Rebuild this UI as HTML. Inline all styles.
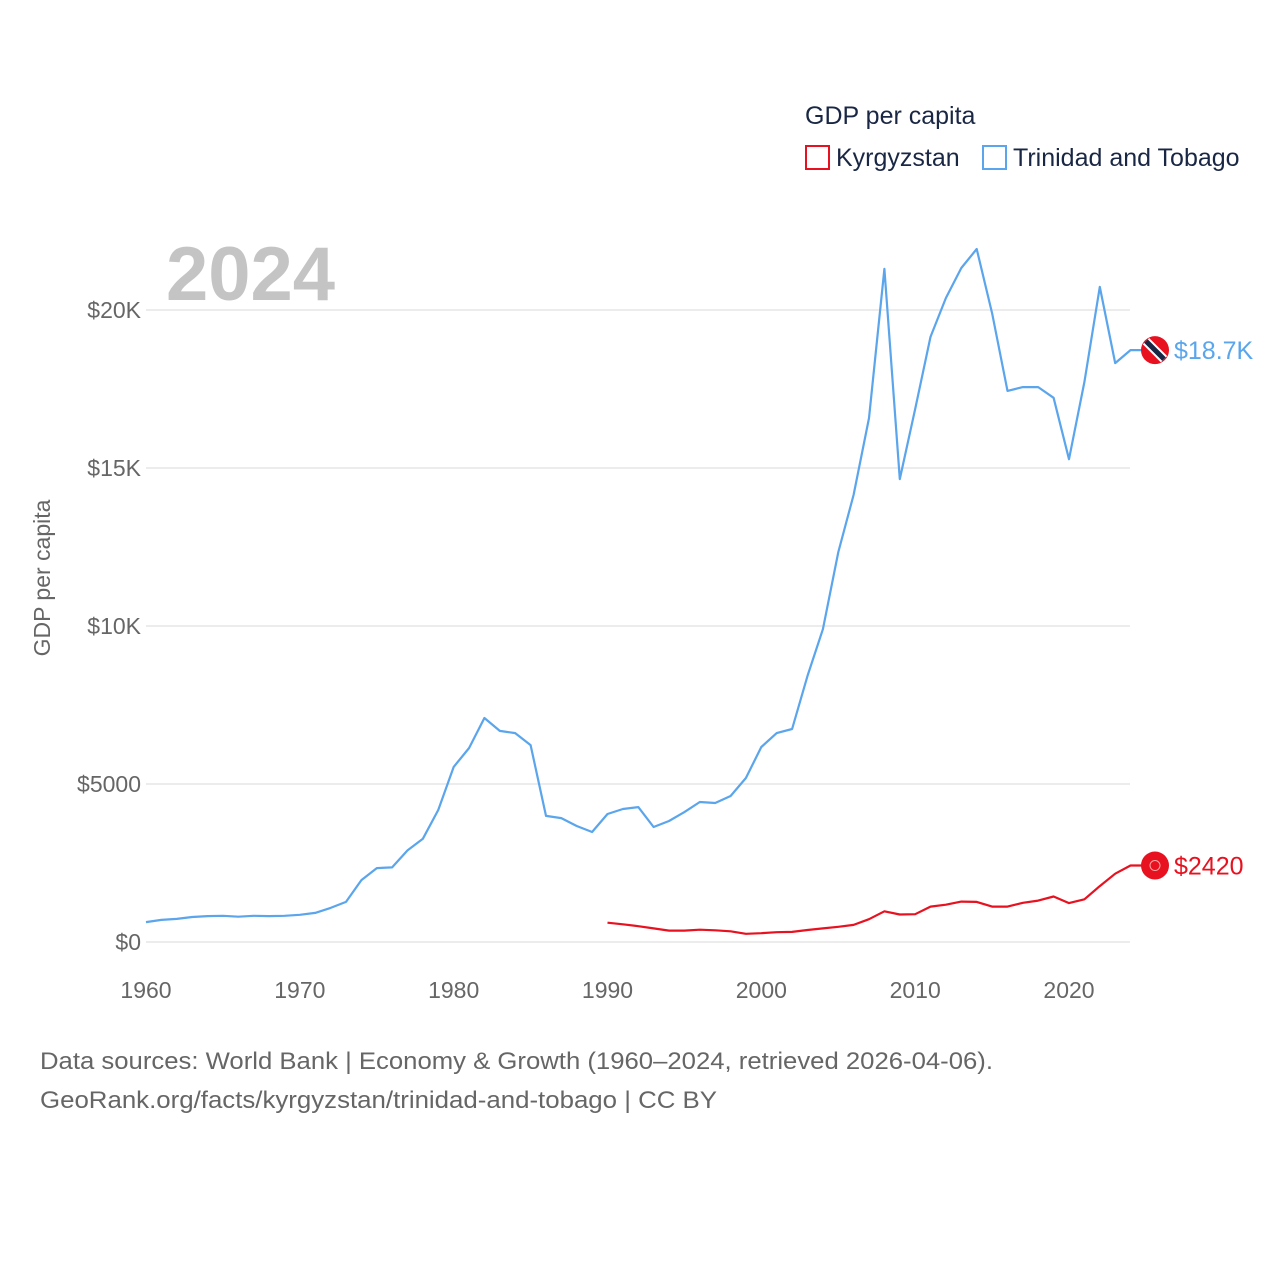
<!DOCTYPE html>
<html><head><meta charset="utf-8"><style>
body{margin:0;background:#fff;}
svg{font-family:"Liberation Sans",sans-serif;}
</style></head><body>
<svg id="chart" width="1280" height="1280" viewBox="0 0 1280 1280">
<rect width="1280" height="1280" fill="#fff"/>
<g id="grid"></g>
<g id="yticks"></g>
<g id="xticks"></g>
<text x="166" y="300" font-size="76" font-weight="bold" fill="#c4c4c4">2024</text>
<text transform="translate(50,578) rotate(-90)" text-anchor="middle" font-size="23" fill="#666">GDP per capita</text>
<g id="series"></g>
<g>
<text x="805" y="124" font-size="25" fill="#1a2744">GDP per capita</text>
<g><rect x="806" y="146" width="23" height="23" fill="none" stroke="#e8111f" stroke-width="2"/><text x="836" y="166" font-size="25" fill="#1a2744">Kyrgyzstan</text></g>
<g><rect x="983" y="146" width="23" height="23" fill="none" stroke="#5aa5ec" stroke-width="2"/><text x="1013" y="166" font-size="25" fill="#1a2744">Trinidad and Tobago</text></g>
</g>
<text x="40" y="1069" font-size="24" fill="#666" textLength="953" lengthAdjust="spacingAndGlyphs">Data sources: World Bank | Economy &amp; Growth (1960–2024, retrieved 2026-04-06).</text>
<text x="40" y="1108" font-size="24" fill="#666" textLength="677" lengthAdjust="spacingAndGlyphs">GeoRank.org/facts/kyrgyzstan/trinidad-and-tobago | CC BY</text>
</svg>
<script>
const tntYears=[];for(let y=1960;y<=2024;y++)tntYears.push(y);
const tntValues=[630,700,730,790,820,830,800,830,820,830,860,920,1080,1270,1960,2340,2360,2900,3270,4180,5540,6140,7090,6680,6610,6230,3990,3920,3670,3480,4050,4210,4270,3640,3830,4110,4430,4400,4620,5190,6170,6610,6740,8420,9900,12340,14150,16580,21300,14650,16870,19150,20380,21330,21930,19900,17440,17560,17560,17220,15280,17720,20730,18320,18730];
const kgzYears=[];for(let y=1990;y<=2024;y++)kgzYears.push(y);
const kgzValues=[610,560,500,430,360,360,390,370,340,260,280,310,320,380,430,480,540,720,970,870,880,1120,1180,1280,1270,1120,1120,1240,1310,1440,1230,1350,1770,2160,2420];
const yTickValues=[0,5000,10000,15000,20000];
const yTickLabels=["$0","$5000","$10K","$15K","$20K"];
const xTickValues=[1960,1970,1980,1990,2000,2010,2020];
const endLabels=["$18.7K","$2420"];
const NS="http://www.w3.org/2000/svg";
const xS=y=>146+(y-1960)*(923/60);
const yS=v=>942-v*(632/20000);
function mk(tag,attrs,parent){const e=document.createElementNS(NS,tag);for(const k in attrs)e.setAttribute(k,attrs[k]);parent.appendChild(e);return e;}
const grid=document.getElementById('grid'),yt=document.getElementById('yticks'),xt=document.getElementById('xticks'),ser=document.getElementById('series');
yTickValues.forEach((v,i)=>{
 const l=mk('line',{x1:146,x2:1130,y1:yS(v),y2:yS(v),stroke:'#e6e6e6','stroke-width':1.5},grid);
 
 
 const t=mk('text',{x:141,y:yS(v)+8,'text-anchor':'end','font-size':23,fill:'#666'},yt);
 t.textContent=yTickLabels[i];
 
 
});
xTickValues.forEach(v=>{
 const t=mk('text',{x:xS(v),y:998,'text-anchor':'middle','font-size':23,fill:'#666'},xt);
 t.textContent=v;
 
 
});
function drawSeries(years,vals,color,name,label){
 let d=years.map((y,i)=>(i?'L':'M')+xS(y).toFixed(1)+','+yS(vals[i]).toFixed(1)).join('');
 const last=yS(vals[vals.length-1]);
 d+='L1142,'+last.toFixed(1);
 const p=mk('path',{d:d,fill:'none',stroke:color,'stroke-width':2.2,'stroke-linejoin':'round'},ser);
 
 
 const c=mk('circle',{cx:1155,cy:last,r:14,fill:'#e8111f'},ser);
 
 
 if(name==='trinidad'){
  const s=mk('line',{x1:1146,y1:last-9,x2:1164,y2:last+9,stroke:'#fff','stroke-width':9},ser);
  
  
  const s2=mk('line',{x1:1146,y1:last-9,x2:1164,y2:last+9,stroke:'#1a2744','stroke-width':5},ser);
  
  
 } else {
  const s=mk('circle',{cx:1155,cy:last,r:5,fill:'none',stroke:'#f7a8a8','stroke-width':1},ser);
  
  
 }
 const t=mk('text',{x:1174,y:last+9,'font-size':25,fill:color},ser);
 t.textContent=label;
 
 
}
drawSeries(tntYears,tntValues,'#5aa5ec','trinidad',endLabels[0]);
drawSeries(kgzYears,kgzValues,'#e8111f','kyrgyzstan',endLabels[1]);
</script>
</body></html>
